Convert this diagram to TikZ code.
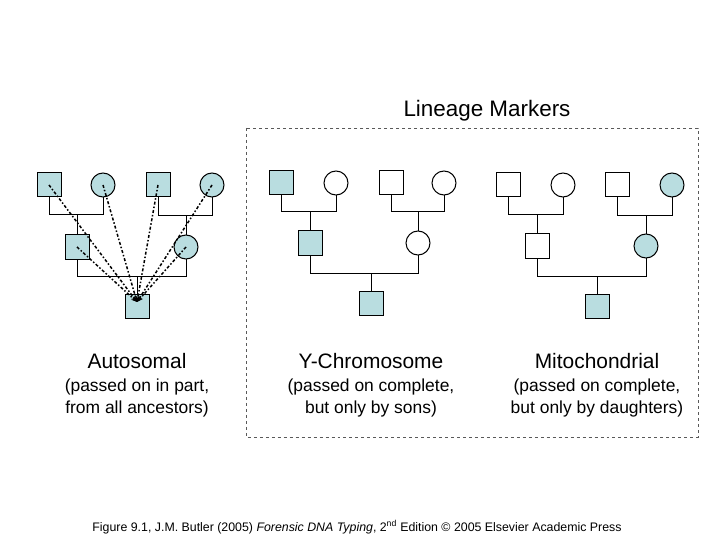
\documentclass[tikz,border=0pt]{standalone}
\usepackage{fontspec}
\setmainfont{Liberation Sans}
\usetikzlibrary{arrows.meta}
\definecolor{fillb}{HTML}{B9DDE0}
\begin{document}
\begin{tikzpicture}[x=1bp,y=-1bp,
 sq/.style={draw,line width=1bp,minimum size=24bp,inner sep=0,outer sep=0},
 ci/.style={draw,line width=1bp,circle,minimum size=24bp,inner sep=0,outer sep=0},
 f/.style={fill=fillb},
 e/.style={fill=white},
 ln/.style={line width=1bp},
 dd/.style={line width=1.5bp,dash dot,-{Stealth[length=6bp]}},
 lab/.style={font=\fontsize{21}{24}\selectfont},
 sub/.style={font=\fontsize{17.5}{22}\selectfont,align=center}]
\useasboundingbox (0,0) rectangle (720,540);
\draw[dashed,gray!70!black] (246,128) rectangle (698,437);
\node[font=\fontsize{22.5}{26}\selectfont] (title) at (487,111) {Lineage Markers};
% Autosomal
\node[sq,f] (a1) at (49,185) {};
\node[ci,f] (a2) at (103,185) {};
\node[sq,f] (a3) at (158,185) {};
\node[ci,f] (a4) at (212,185) {};
\node[sq,f] (a5) at (77,247) {};
\node[ci,f] (a6) at (186,247) {};
\node[sq,f] (a7) at (137,306) {};
\draw[ln] (a1.south) |- (a2.south|-0,215) -- (a2.south);
\draw[ln] (a5.north) -- (77,215);
\draw[ln] (a3.south) |- (a4.south|-0,216) -- (a4.south);
\draw[ln] (a6.north) -- (186,216);
\draw[ln] (a5.south) |- (a6.south|-0,276) -- (a6.south);
\draw[ln] (a7.north) -- (137,276);
\coordinate (t) at (137,302);
\foreach \n in {a1,a2,a3,a4,a5,a6} \draw[dd] (\n.center) -- (t);
% Y
\node[sq,f] (y1) at (281,183) {};
\node[ci,e] (y2) at (336,183) {};
\node[sq,e] (y3) at (391,183) {};
\node[ci,e] (y4) at (444,183) {};
\node[sq,f] (y5) at (310,243) {};
\node[ci,e] (y6) at (418,243) {};
\node[sq,f] (y7) at (371,303) {};
\draw[ln] (y1.south) |- (336,212) -- (y2.south);
\draw[ln] (y5.north) -- (310,212);
\draw[ln] (y3.south) |- (444,212) -- (y4.south);
\draw[ln] (y6.north) -- (418,212);
\draw[ln] (y5.south) |- (418,273) -- (y6.south);
\draw[ln] (y7.north) -- (371,273);
% Mito
\node[sq,e] (m1) at (508,185) {};
\node[ci,e] (m2) at (563,185) {};
\node[sq,e] (m3) at (617,185) {};
\node[ci,f] (m4) at (672,185) {};
\node[sq,e] (m5) at (537,246) {};
\node[ci,f] (m6) at (646,246) {};
\node[sq,f] (m7) at (597,306) {};
\draw[ln] (m1.south) |- (563,215) -- (m2.south);
\draw[ln] (m5.north) -- (537,215);
\draw[ln] (m3.south) |- (672,216) -- (m4.south);
\draw[ln] (m6.north) -- (646,216);
\draw[ln] (m5.south) |- (646,276) -- (m6.south);
\draw[ln] (m7.north) -- (597,276);
% labels
\node[lab] (l1) at (137,361) {Autosomal};
\node[lab] (l2) at (371,361) {Y-Chromosome};
\node[lab] (l3) at (597,361) {Mitochondrial};
\node[sub] (s1) at (137,398) {(passed on in part,\\ from all ancestors)};
\node[sub] (s2) at (371,398) {(passed on complete,\\ but only by sons)};
\node[sub] (s3) at (597,398) {(passed on complete,\\ but only by daughters)};
\node[font=\fontsize{12.4}{14}\selectfont] (cap) at (357,527) {Figure 9.1, J.M. Butler (2005) \textit{Forensic DNA Typing}, 2\textsuperscript{nd} Edition \textcopyright{} 2005 Elsevier Academic Press};
\end{tikzpicture}
\end{document}
